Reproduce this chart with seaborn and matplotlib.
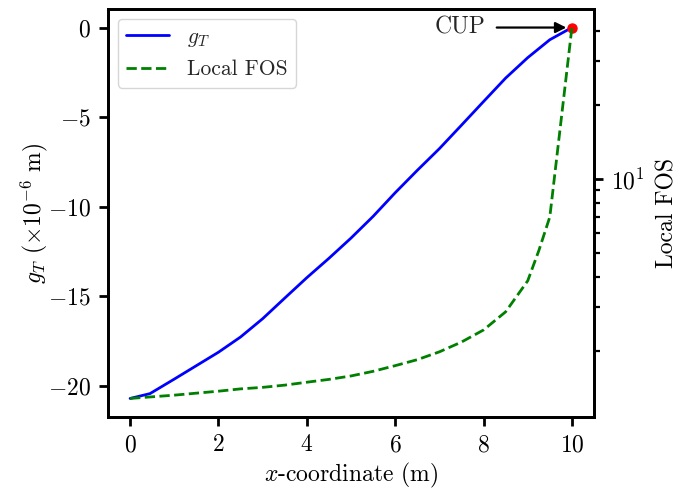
import matplotlib
matplotlib.use("Agg")
import matplotlib.pyplot as plt
import seaborn as sns
import numpy as np

# ---- data ----
x_gap = [0.0, 0.45, 1.0, 1.5, 2.0, 2.5, 3.0, 3.5, 4.0, 4.5, 5.0, 5.5, 6.0,
         6.5, 7.0, 7.5, 8.0, 8.5, 9.0, 9.5, 10.0]
g_T = [-20.70, -20.43, -19.62, -18.87, -18.12, -17.27, -16.25, -15.10,
       -13.96, -12.88, -11.75, -10.54, -9.22, -7.97, -6.76, -5.45, -4.13,
       -2.82, -1.68, -0.68, 0.0]

x_fos = [0.0, 0.5, 1.0, 1.5, 2.0, 2.5, 3.0, 3.5, 4.0, 4.5, 5.0, 5.5, 6.0,
         6.5, 7.0, 7.5, 8.0, 8.5, 9.0, 9.25, 9.5, 10.0]
local_fos = [1.28, 1.30, 1.32, 1.345, 1.37, 1.40, 1.42, 1.45, 1.49, 1.53,
             1.58, 1.65, 1.74, 1.84, 1.98, 2.17, 2.43, 2.88, 3.85, 5.1,
             7.0, 41.2]

cup_x = [10.0]
cup_y = [0.0]

FS = 17

# ---- style ----
sns.set_theme(style="ticks")
plt.rcParams.update({
    "font.family": ["serif"],
    "font.serif": ["cmr10"],
    "mathtext.fontset": "cm",
    "axes.formatter.use_mathtext": True,
    "axes.unicode_minus": True,
    "font.size": FS,
    "axes.labelsize": FS,
    "xtick.labelsize": FS,
    "ytick.labelsize": FS,
    "legend.fontsize": 15.5,
    "axes.linewidth": 2.0,
    "xtick.major.width": 2.0,
    "ytick.major.width": 2.0,
    "ytick.minor.width": 1.6,
    "xtick.major.size": 6.5,
    "ytick.major.size": 6.5,
    "ytick.minor.size": 4.0,
    "xtick.major.pad": 6.0,
    "ytick.major.pad": 6.0,
    "axes.edgecolor": "black",
    "xtick.color": "black",
    "ytick.color": "black",
    "axes.labelcolor": "black",
})

fig = plt.figure(figsize=(6.88, 4.91), dpi=100)
ax = fig.add_axes([108/688, 1-417/491, (594-108)/688, (417-9)/491])
ax2 = ax.twinx()

sns.lineplot(x=x_gap, y=g_T, ax=ax, color="blue", lw=2.0, label="$g_T$",
             legend=False)
sns.lineplot(x=x_fos, y=local_fos, ax=ax2, color="green", lw=2.0,
             linestyle="--", label="Local FOS", legend=False)
ax.plot(cup_x, cup_y, "o", color="red", ms=6.5, zorder=5)

ax2.set_yscale("log")
ax2.yaxis.set_minor_formatter(matplotlib.ticker.NullFormatter())

ax.set_xlim(-0.5, 10.5)
ax.set_ylim(-21.735, 1.035)
ax.set_xticks([0, 2, 4, 6, 8, 10])
ax.set_yticks([0, -5, -10, -15, -20])

ax.set_xlabel("$x$-coordinate (m)", labelpad=3)
ax.set_ylabel(r"$g_T$ ($\times 10^{-6}$ m)", labelpad=-2)
ax2.set_ylabel("Local FOS", labelpad=8)

ax.annotate("CUP", xy=(10.0, 0.0), xytext=(7.46, 0.0), ha="center",
            va="center", fontsize=FS,
            arrowprops=dict(arrowstyle="-|>", color="black", lw=1.6,
                            shrinkA=6, shrinkB=4, mutation_scale=16))

h1, l1 = ax.get_legend_handles_labels()
h2, l2 = ax2.get_legend_handles_labels()
ax.legend(h1 + h2, l1 + l2, loc="upper left", frameon=True,
          borderaxespad=0.45)

fig.savefig("out.png", dpi=100)
